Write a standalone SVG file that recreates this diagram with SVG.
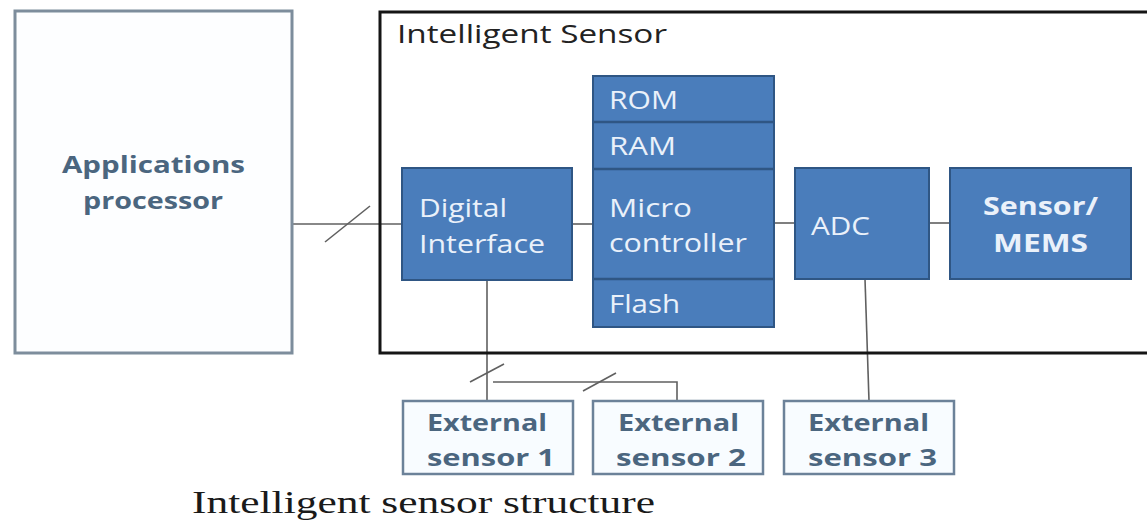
<svg xmlns="http://www.w3.org/2000/svg" width="1147" height="523" viewBox="0 0 1147 523">
<style>
.blue{fill:#4a7dbb;stroke:#2f5684;stroke-width:2}
.lt{fill:#f8fcff;stroke:#6c8299;stroke-width:2.5}
.wt{font-family:"Open Sans","Liberation Sans",sans-serif;font-size:25px;fill:#eaf1fa}
.wb{font-family:"Open Sans","Liberation Sans",sans-serif;font-size:25px;fill:#eaf1fa;font-weight:bold}
.dt{font-family:"Open Sans","Liberation Sans",sans-serif;font-size:24px;fill:#4b667f;font-weight:bold}
.ln{stroke:#606060;stroke-width:1.6;fill:none}
</style>
<rect width="1147" height="523" fill="#ffffff"/>
<g id="connectors">
<line class="ln" x1="292" y1="224" x2="402" y2="224"/>
<line class="ln" x1="325" y1="242" x2="370" y2="206"/>
<line class="ln" x1="572" y1="224" x2="593" y2="224"/>
<line class="ln" x1="774" y1="223" x2="795" y2="223"/>
<line class="ln" x1="929" y1="223" x2="950" y2="223"/>
<line class="ln" x1="487" y1="280" x2="487" y2="401"/>
<line class="ln" x1="470" y1="382" x2="504" y2="364"/>
<polyline class="ln" points="493,382 677,382 677,401"/>
<line class="ln" x1="583" y1="391" x2="616" y2="373"/>
<line class="ln" x1="865" y1="279" x2="869" y2="401"/>
</g>
<g id="applications-processor">
<rect x="15" y="11" width="277" height="342" fill="#fdfeff" stroke="#7d8d9c" stroke-width="3"/>
<text class="dt" x="62" y="173" textLength="183" lengthAdjust="spacingAndGlyphs">Applications</text>
<text class="dt" x="83" y="209" textLength="140" lengthAdjust="spacingAndGlyphs">processor</text>
</g>
<g id="intelligent-sensor">
<rect x="380" y="12" width="790" height="341" fill="none" stroke="#151515" stroke-width="3"/>
<text x="397" y="43" textLength="270" lengthAdjust="spacingAndGlyphs" font-family="Open Sans, Liberation Sans, sans-serif" font-size="26" fill="#222">Intelligent Sensor</text>
</g>
<g id="digital-interface">
<rect class="blue" x="402" y="168" width="170" height="112"/>
<text class="wt" x="419" y="217" textLength="88" lengthAdjust="spacingAndGlyphs">Digital</text>
<text class="wt" x="419" y="253" textLength="126" lengthAdjust="spacingAndGlyphs">Interface</text>
</g>
<g id="microcontroller">
<rect class="blue" x="593" y="76" width="181" height="251"/>
<line x1="593" y1="122" x2="774" y2="122" stroke="#2f5684" stroke-width="2.5"/>
<line x1="593" y1="169" x2="774" y2="169" stroke="#2f5684" stroke-width="2.5"/>
<line x1="593" y1="279" x2="774" y2="279" stroke="#2f5684" stroke-width="2.5"/>
<text class="wt" x="609" y="109" textLength="69" lengthAdjust="spacingAndGlyphs">ROM</text>
<text class="wt" x="609" y="155" textLength="67" lengthAdjust="spacingAndGlyphs">RAM</text>
<text class="wt" x="609" y="217" textLength="83" lengthAdjust="spacingAndGlyphs">Micro</text>
<text class="wt" x="609" y="252" textLength="138" lengthAdjust="spacingAndGlyphs">controller</text>
<text class="wt" x="609" y="313" textLength="71" lengthAdjust="spacingAndGlyphs">Flash</text>
</g>
<g id="adc">
<rect class="blue" x="795" y="168" width="134" height="111"/>
<text class="wt" x="811" y="235" textLength="59" lengthAdjust="spacingAndGlyphs">ADC</text>
</g>
<g id="sensor-mems">
<rect class="blue" x="950" y="168" width="181" height="111"/>
<text class="wb" x="983" y="215" textLength="115" lengthAdjust="spacingAndGlyphs">Sensor/</text>
<text class="wb" x="993" y="252" textLength="95" lengthAdjust="spacingAndGlyphs">MEMS</text>
</g>
<g id="external-sensor-1">
<rect class="lt" x="403" y="401" width="170" height="73"/>
<text class="dt" x="427" y="431" textLength="120" lengthAdjust="spacingAndGlyphs">External</text>
<text class="dt" x="427" y="466" textLength="128" lengthAdjust="spacingAndGlyphs">sensor  1</text>
</g>
<g id="external-sensor-2">
<rect class="lt" x="593" y="401" width="170" height="73"/>
<text class="dt" x="618" y="431" textLength="121" lengthAdjust="spacingAndGlyphs">External</text>
<text class="dt" x="616" y="466" textLength="130" lengthAdjust="spacingAndGlyphs">sensor  2</text>
</g>
<g id="external-sensor-3">
<rect class="lt" x="784" y="401" width="170" height="73"/>
<text class="dt" x="808" y="431" textLength="121" lengthAdjust="spacingAndGlyphs">External</text>
<text class="dt" x="808" y="466" textLength="129" lengthAdjust="spacingAndGlyphs">sensor  3</text>
</g>
<text x="192" y="513" textLength="463" lengthAdjust="spacingAndGlyphs" font-family="Liberation Serif, serif" font-size="32" fill="#1a1a1a">Intelligent sensor structure</text>
</svg>
